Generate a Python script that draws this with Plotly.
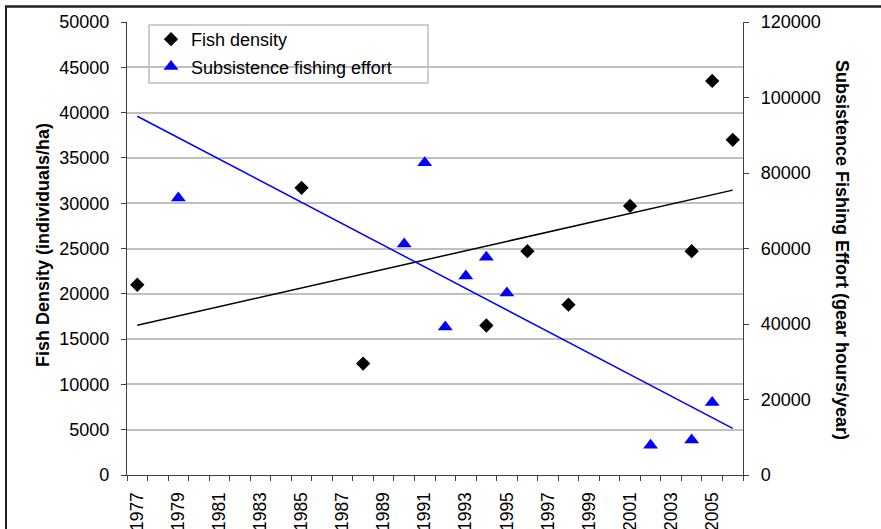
import numpy as np
import plotly.graph_objects as go

# Data
density_years = [1977, 1985, 1988, 1994, 1996, 1998, 2001, 2004, 2005, 2006]
fish_density = [21000, 31700, 12300, 16500, 24700, 18800, 29700, 24700, 43500, 37000]

effort_years = [1979, 1990, 1991, 1992, 1993, 1994, 1995, 2002, 2004, 2005]
fishing_effort = [73400, 61200, 82700, 39200, 52700, 57700, 48200, 7900, 9300, 19200]

category_years = list(range(1977, 2007))

# Linear trendlines (least squares, as in the original spreadsheet)
d_fit = np.polyfit(density_years, fish_density, 1)
e_fit = np.polyfit(effort_years, fishing_effort, 1)
trend_x = [category_years[0], category_years[-1]]
d_trend = list(np.polyval(d_fit, trend_x))
e_trend = list(np.polyval(e_fit, trend_x))

FONT = "Liberation Sans, Arial, sans-serif"
AXIS = "#404040"

fig = go.Figure()
fig.add_trace(go.Scatter(x=trend_x, y=d_trend, mode="lines",
                         line=dict(color="black", width=1.5),
                         showlegend=False, hoverinfo="skip"))
fig.add_trace(go.Scatter(x=trend_x, y=e_trend, mode="lines", yaxis="y2",
                         line=dict(color="#0000FF", width=1.5),
                         showlegend=False, hoverinfo="skip"))
fig.add_trace(go.Scatter(x=density_years, y=fish_density, mode="markers",
                         name="Fish density", legendgroup="a",
                         marker=dict(symbol="diamond", size=11, color="black")))
fig.add_trace(go.Scatter(x=effort_years, y=fishing_effort, mode="markers",
                         name="Subsistence fishing effort", yaxis="y2", legendgroup="b",
                         marker=dict(symbol="triangle-up", size=13, color="#0000FF")))

W, H = 881, 529
L, R, T, B = 127, 138, 22, 54
pw, ph = W - L - R, H - T - B


def px_x(p):
    return (p - L) / pw


def px_y(p):
    return (H - B - p) / ph


border = dict(color="#202020", width=2)

fig.update_layout(
    width=W, height=H,
    margin=dict(l=L, r=R, t=T, b=B, autoexpand=False),
    paper_bgcolor="white", plot_bgcolor="white",
    font=dict(family=FONT, size=17.5, color="black"),
    showlegend=True,
    legend=dict(x=px_x(151), y=px_y(21), xanchor="left", yanchor="top",
                bgcolor="rgba(0,0,0,0)", borderwidth=0,
                font=dict(size=18), itemwidth=30,
                traceorder="grouped", tracegroupgap=1),
    xaxis=dict(range=[1976.5, 2006.5], tickmode="linear", tick0=1977, dtick=2,
               ticks="", tickangle=-90, ticklabelstandoff=9,
               showline=True, linecolor=AXIS, linewidth=1.3,
               showgrid=False, zeroline=False, automargin=False,
               tickfont=dict(size=17.5),
               minor=dict(tick0=1976.5, dtick=1, ticks="outside", ticklen=5,
                          tickcolor=AXIS, tickwidth=1.2, showgrid=False)),
    yaxis=dict(range=[0, 50000], tickmode="linear", tick0=0, dtick=5000,
               tickformat="d", ticks="outside", ticklen=5, tickcolor=AXIS,
               showline=True, linecolor=AXIS, linewidth=1.3,
               showgrid=True, gridcolor="#c0c0c0", gridwidth=1.5,
               zeroline=False, automargin=False, ticklabelstandoff=8,
               tickfont=dict(size=18)),
    yaxis2=dict(range=[0, 120000], tickmode="linear", tick0=0, dtick=20000,
                tickformat="d", ticks="outside", ticklen=5, tickcolor=AXIS,
                overlaying="y", side="right",
                showline=True, linecolor=AXIS, linewidth=1.3,
                showgrid=False, zeroline=False, automargin=False,
                ticklabelstandoff=8, tickfont=dict(size=18)),
    annotations=[
        dict(text="<b>Fish Density (individuals/ha)</b>", xref="paper", yref="paper",
             x=px_x(43), y=px_y(245), xanchor="center", yanchor="middle", textangle=-90,
             showarrow=False, font=dict(size=18)),
        dict(text="<b>Subsistence Fishing Effort (gear hours/year)</b>",
             xref="paper", yref="paper", x=px_x(842), y=px_y(250), xanchor="center",
             yanchor="middle", textangle=90, showarrow=False, font=dict(size=18)),
    ],
    shapes=[
        # legend box
        dict(type="rect", xref="paper", yref="paper",
             x0=px_x(149), x1=px_x(428), y0=px_y(83), y1=px_y(25),
             line=dict(color="#bfbfbf", width=1.5), fillcolor="white",
             layer="between"),
        # outer chart border (top and left edges; the rest lies outside the view)
        dict(type="rect", xref="paper", yref="paper",
             x0=px_x(6), x1=px_x(920), y0=px_y(560), y1=px_y(6.5),
             line=border, fillcolor="rgba(0,0,0,0)", layer="above"),
        dict(type="line", xref="paper", yref="paper",
             x0=px_x(5), x1=px_x(881), y0=px_y(6.5), y1=px_y(6.5),
             line=border, layer="above"),
    ],
)

fig.write_html(
    "out.html",
    config={"displayModeBar": False},
    post_script="document.body.style.margin='0px';document.body.style.overflow='hidden';",
)
